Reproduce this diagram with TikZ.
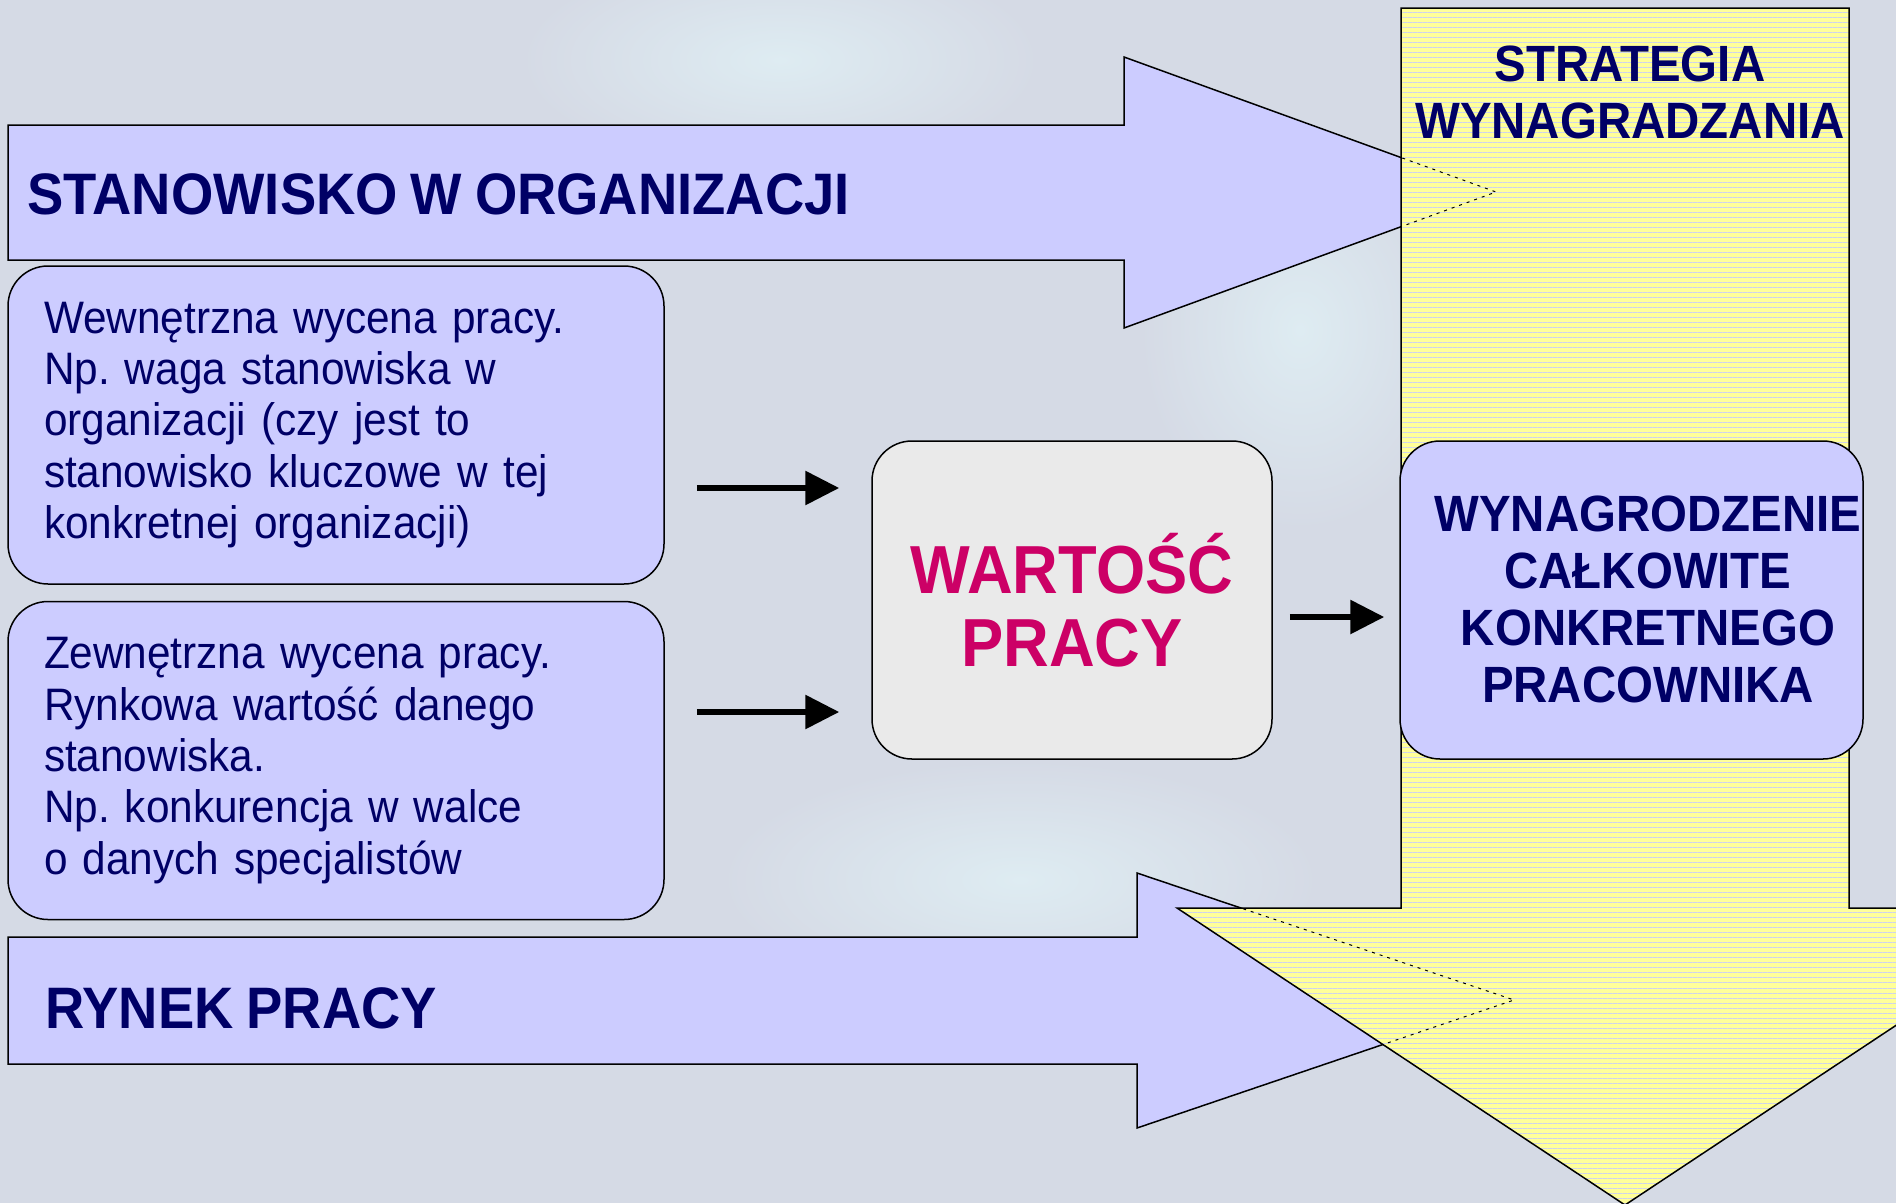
\documentclass[tikz,border=0pt]{standalone}
\usepackage{fontspec}
\setmainfont{Liberation Sans}
\newfontfamily\slidefont{Liberation Sans}[FakeStretch=0.93, WordSpace=0.85]
\usetikzlibrary{arrows.meta,patterns.meta}
\definecolor{lav}{RGB}{204,204,255}
\definecolor{navytxt}{RGB}{0,0,102}
\definecolor{magtxt}{RGB}{204,0,102}
\definecolor{graybox}{RGB}{234,234,234}
\definecolor{yelfill}{RGB}{255,255,153}
\definecolor{yelline}{RGB}{205,210,238}
\definecolor{bgcol}{RGB}{213,218,229}
\definecolor{bglight}{RGB}{222,236,242}
\frenchspacing
\begin{document}
\begin{tikzpicture}[x=1pt, y=-1pt,
    every node/.style={inner sep=0pt, text=navytxt},
    box/.style={draw, line width=1.5pt, rounded corners=40pt, fill=lav, minimum height=318pt},
    bodytext/.style={font=\slidefont\fontsize{45.5}{51.4}\selectfont, align=left, text width=584pt, inner xsep=36pt},
    caps/.style={font=\slidefont\bfseries\fontsize{51}{57}\selectfont, align=center},
    bigcaps/.style={font=\slidefont\bfseries\fontsize{58.5}{60}\selectfont},
    bigarrow/.style={draw, line width=1.5pt, fill=lav},
    glow/.style={inner color=bglight, outer color=bgcol},
    hidden/.style={line width=1pt, dash pattern=on 3pt off 5pt},
    flow/.style={line width=6pt, -{Triangle[length=34pt, width=33pt]}}]
  \useasboundingbox (0,0) rectangle (1896,1203);
  \clip (0,0) rectangle (1896,1203);
  \fill[bgcol] (0,0) rectangle (1896,1203);
  \shade[glow] (780,60) ellipse (260 and 110);
  \shade[glow] (1020,880) ellipse (300 and 120);
  \shade[glow] (1300,330) ellipse (160 and 200);

  \draw[bigarrow] (8,125) -- (1124,125) -- (1124,57) -- (1496,192) -- (1124,328) -- (1124,260) -- (8,260) -- cycle;
  \draw[bigarrow] (8,937) -- (1137,937) -- (1137,873) -- (1514,1000) -- (1137,1128) -- (1137,1064) -- (8,1064) -- cycle;

  \path[preaction={fill=yelfill}, pattern={Lines[angle=0, distance=5pt, line width=1pt]}, pattern color=yelline, draw, line width=1.5pt]
    (1401,8) -- (1849,8) -- (1849,908) -- (2073,908) -- (1625,1205) -- (1177,908) -- (1401,908) -- cycle;
  \begin{scope}
    \clip (1401,8) -- (1849,8) -- (1849,908) -- (2073,908) -- (1625,1205) -- (1177,908) -- (1401,908) -- cycle;
    \draw[hidden] (1124,57) -- (1496,192) -- (1124,328);
    \draw[hidden] (1137,873) -- (1514,1000) -- (1137,1128);
  \end{scope}

  \node[bigcaps, anchor=west] (org) at (27,194) {STANOWISKO W ORGANIZACJI};
  \node[bigcaps, anchor=west] (market) at (45,1008) {RYNEK PRACY};
  \node[caps] (strategy) at (1630,92) {STRATEGIA\\WYNAGRADZANIA};

  \node[box, bodytext] (inner) at (336,425) {Wewnętrzna wycena pracy.\\Np. waga stanowiska w\\organizacji (czy jest to\\stanowisko kluczowe w tej\\konkretnej organizacji)};
  \node[box, bodytext] (outer) at (336,760.5) {Zewnętrzna wycena pracy.\\Rynkowa wartość danego\\stanowiska.\\Np. konkurencja w walce\\o danych specjalistów};
  \node[box, fill=graybox, minimum width=400pt, text=magtxt, align=center,
    font=\slidefont\bfseries\fontsize{68}{73}\selectfont] (value) at (1072,600) {WARTOŚĆ\\PRACY};
  \node[box, minimum width=463pt] (total) at (1631.5,600) {};
  \node[caps] (totaltext) at (1648,599) {WYNAGRODZENIE\\CAŁKOWITE\\KONKRETNEGO\\PRACOWNIKA};

  \draw[flow, shorten <=32pt, shorten >=32pt] ([yshift=-63pt]inner.east) -- ([yshift=-63pt]inner.east -| value.west);
  \draw[flow, shorten <=32pt, shorten >=32pt] ([yshift=48.5pt]outer.east) -- ([yshift=48.5pt]outer.east -| value.west);
  \draw[flow, shorten <=17pt, shorten >=15pt] ([yshift=-17pt]value.east) -- ([yshift=-17pt]value.east -| total.west);
\end{tikzpicture}
\end{document}
